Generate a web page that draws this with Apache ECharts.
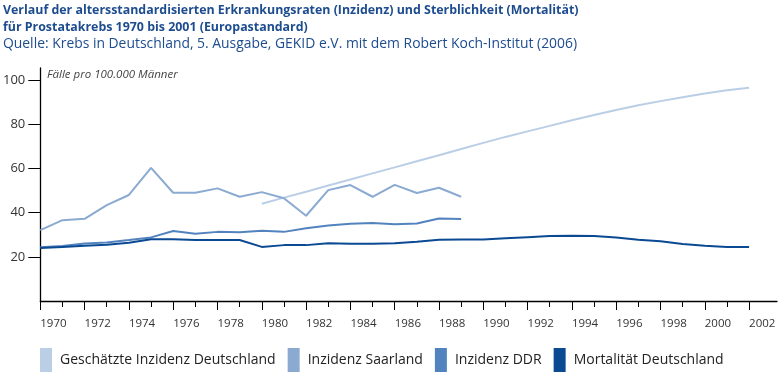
<!DOCTYPE html>
<html>
<head>
<meta charset="utf-8">
<script src="https://cdn.jsdelivr.net/npm/echarts@6/dist/echarts.min.js"></script>
<style>
html,body{margin:0;padding:0;background:#fff;}
#c{width:782px;height:374px;}
</style>
</head>
<body>
<div id="c"></div>
<script>
// ---- data ----
var titleLine1 = 'Verlauf der altersstandardisierten Erkrankungsraten (Inzidenz) und Sterblichkeit (Mortalität)';
var titleLine2 = 'für Prostatakrebs 1970 bis 2001 (Europastandard)';
var sourceLine = 'Quelle: Krebs in Deutschland, 5. Ausgabe, GEKID e.V. mit dem Robert Koch-Institut (2006)';
var unitLabel = 'Fälle pro 100.000 Männer';
var seriesNames = ['Geschätzte Inzidenz Deutschland', 'Inzidenz Saarland', 'Inzidenz DDR', 'Mortalität Deutschland'];

var yearsEst = [1980,1981,1982,1983,1984,1985,1986,1987,1988,1989,1990,1991,1992,1993,1994,1995,1996,1997,1998,1999,2000,2001,2002];
var estimatedGermany = [44.0,46.8,49.5,52.3,55.0,57.8,60.5,63.3,66.0,68.8,71.6,74.3,76.8,79.3,81.8,84.2,86.5,88.6,90.5,92.3,94.0,95.4,96.6];

var yearsSaar = [1970,1971,1972,1973,1974,1975,1976,1977,1978,1979,1980,1981,1982,1983,1984,1985,1986,1987,1988,1989];
var saarland = [32.1,36.6,37.2,43.4,48.0,60.3,49.0,49.0,51.0,47.2,49.3,46.5,38.6,50.2,52.5,47.2,52.6,48.9,51.3,47.2];

var yearsDDR = [1970,1971,1972,1973,1974,1975,1976,1977,1978,1979,1980,1981,1982,1983,1984,1985,1986,1987,1988,1989];
var ddr = [24.3,24.9,26.0,26.5,27.6,28.8,31.7,30.4,31.3,31.1,31.8,31.3,32.9,34.2,35.0,35.3,34.8,35.1,37.4,37.1];

var yearsMort = [1970,1971,1972,1973,1974,1975,1976,1977,1978,1979,1980,1981,1982,1983,1984,1985,1986,1987,1988,1989,1990,1991,1992,1993,1994,1995,1996,1997,1998,1999,2000,2001,2002];
var mortality = [24.0,24.5,25.0,25.5,26.4,28.0,28.0,27.6,27.6,27.6,24.5,25.3,25.3,26.2,25.9,25.9,26.2,26.8,27.7,27.9,27.9,28.4,28.9,29.4,29.6,29.4,28.8,27.7,27.1,25.8,25.0,24.4,24.4];

var xMajorTicks = [1970,1972,1974,1976,1978,1980,1982,1984,1986,1988,1990,1992,1994,1996,1998,2000,2002];
var xMinorTicks = [1971,1973,1975,1977,1979,1981,1983,1985,1987,1989,1991,1993,1995,1997,1999,2001];
var yTicks = [20,40,60,80,100];

var colors = ['#bacee6', '#8aaad1', '#5383be', '#0b4a93'];

function pairs(xs, ys){ return xs.map(function(x,i){ return [x, ys[i]]; }); }

var chart = echarts.init(document.getElementById('c'));
var FONT = '"Open Sans", "DejaVu Sans", sans-serif';

var option = {
  animation: false,
  backgroundColor: '#ffffff',
  grid: { left: 40, right: 5, top: 68, bottom: 73 },
  graphic: [
    { type: 'text', left: 3, top: 4, style: { text: titleLine1, fill: '#1d4c8f', font: 'bold 12.4px ' + FONT } },
    { type: 'text', left: 3, top: 21, style: { text: titleLine2, fill: '#1d4c8f', font: 'bold 12.4px ' + FONT } },
    { type: 'text', left: 3, top: 37, style: { text: sourceLine, fill: '#1d4c8f', font: '13.9px ' + FONT } },
    { type: 'text', left: 47, top: 69, style: { text: unitLabel, fill: '#444', font: 'italic 11.5px ' + FONT } }
  ],
  legend: {
    left: 40, top: 348, padding: 0,
    itemWidth: 12, itemHeight: 24, itemGap: 12,
    icon: 'rect',
    textStyle: { fontFamily: FONT, fontSize: 14, color: '#222', padding: [0,0,0,3] },
    data: seriesNames
  },
  xAxis: [{
    type: 'value', min: 1970, max: 2003.26,
    axisLine: { show: true, lineStyle: { color: '#000', width: 1.3 } },
    splitLine: { show: false },
    axisTick: { show: true, customValues: xMajorTicks, length: 9, lineStyle: { color: '#000' } },
    axisLabel: { customValues: xMajorTicks, align: 'left', margin: 17, fontFamily: FONT, fontSize: 11.5, color: '#333',
      formatter: function(v){ return String(v); } }
  }, {
    type: 'value', min: 1970, max: 2003.26, position: 'bottom',
    axisLine: { show: false },
    splitLine: { show: false },
    axisTick: { show: true, customValues: xMinorTicks, length: 6, lineStyle: { color: '#000' } },
    axisLabel: { show: false }
  }],
  yAxis: {
    type: 'value', min: 0, max: 105.5,
    axisLine: { show: true, lineStyle: { color: '#000', width: 1.3 } },
    splitLine: { show: false },
    axisTick: { show: true, customValues: yTicks, length: 12, lineStyle: { color: '#000' } },
    axisLabel: { customValues: yTicks, margin: 15, fontFamily: FONT, fontSize: 13, color: '#333' }
  },
  series: [
    { name: seriesNames[0], type: 'line', symbol: 'none', data: pairs(yearsEst, estimatedGermany),
      lineStyle: { color: colors[0], width: 2 }, itemStyle: { color: colors[0] }, z: 2 },
    { name: seriesNames[1], type: 'line', symbol: 'none', data: pairs(yearsSaar, saarland),
      lineStyle: { color: colors[1], width: 2 }, itemStyle: { color: colors[1] }, z: 3 },
    { name: seriesNames[2], type: 'line', symbol: 'none', data: pairs(yearsDDR, ddr),
      lineStyle: { color: colors[2], width: 2 }, itemStyle: { color: colors[2] }, z: 3 },
    { name: seriesNames[3], type: 'line', symbol: 'none', data: pairs(yearsMort, mortality),
      lineStyle: { color: colors[3], width: 2 }, itemStyle: { color: colors[3] }, z: 4 }
  ]
};
chart.setOption(option);
</script>
</body>
</html>
